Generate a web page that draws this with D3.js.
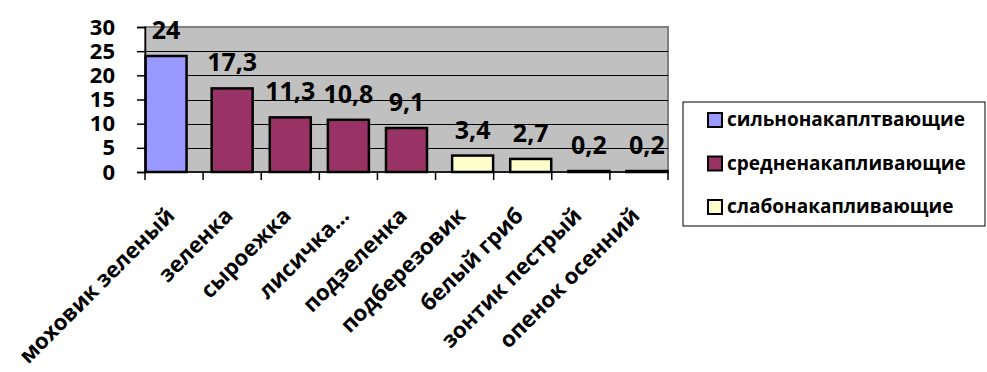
<!DOCTYPE html>
<html>
<head>
<meta charset="utf-8">
<script src="https://cdn.jsdelivr.net/npm/d3@7"></script>
<style>
  body { margin: 0; background: #fff; }
  svg { display: block; font-family: "Open Sans", sans-serif; font-weight: bold; }
</style>
</head>
<body>
<svg id="chart"></svg>
<script>
const categories = ['моховик зеленый', 'зеленка', 'сыроежка', 'лисичка...', 'подзеленка',
  'подберезовик', 'белый гриб', 'зонтик пестрый', 'опенок осенний'];
const values = [24, 17.3, 11.3, 10.8, 9.1, 3.4, 2.7, 0.2, 0.2];
const valueLabels = ['24', '17,3', '11,3', '10,8', '9,1', '3,4', '2,7', '0,2', '0,2'];
// which series each category belongs to
const groupOf = [0, 1, 1, 1, 1, 2, 2, 2, 2];
const seriesNames = ['сильнонакаплтвающие', 'средненакапливающие', 'слабонакапливающие'];
const seriesColors = ['#9999ff', '#993366', '#ffffcc'];
const yTicks = [0, 5, 10, 15, 20, 25, 30];

const W = 987, H = 372;
const plot = { left: 145, right: 668, top: 27, bottom: 172 };

const svg = d3.select('#chart').attr('width', W).attr('height', H);

const x = d3.scaleBand().domain(d3.range(categories.length))
  .range([plot.left, plot.right]).paddingInner(0).paddingOuter(0);
const y = d3.scaleLinear().domain([0, 30]).range([plot.bottom, plot.top]);

// plot background
svg.append('rect')
  .attr('x', plot.left).attr('y', plot.top)
  .attr('width', plot.right - plot.left).attr('height', plot.bottom - plot.top)
  .attr('fill', '#c0c0c0')
  .attr('stroke', '#808080').attr('stroke-width', 2);

// gridlines
svg.append('g').selectAll('line')
  .data(yTicks.filter(d => d > 0 && d < 30))
  .join('line')
  .attr('x1', plot.left).attr('x2', plot.right)
  .attr('y1', d => Math.round(y(d)) + 0.5).attr('y2', d => Math.round(y(d)) + 0.5)
  .attr('stroke', '#000').attr('stroke-width', 1.2);

// bars (clustered by series: offset per series inside the category)
const barW = 41;
const seriesShift = [-8, 0, 8];
svg.append('g').selectAll('rect')
  .data(values)
  .join('rect')
  .attr('x', (d, i) => x(i) + x.bandwidth() / 2 - barW / 2 + seriesShift[groupOf[i]])
  .attr('y', d => y(d))
  .attr('width', barW)
  .attr('height', d => y(0) - y(d))
  .attr('fill', (d, i) => seriesColors[groupOf[i]])
  .attr('stroke', '#000').attr('stroke-width', 2.5);

// value labels
svg.append('g').selectAll('text')
  .data(values)
  .join('text')
  .attr('x', (d, i) => x(i) + x.bandwidth() / 2 + seriesShift[groupOf[i]])
  .attr('y', d => y(d) - 17)
  .attr('text-anchor', 'middle')
  .attr('font-size', 25)
  .attr('fill', '#000')
  .text((d, i) => valueLabels[i]);

// y axis
const yAxis = svg.append('g')
  .attr('transform', `translate(${plot.left},0)`)
  .call(d3.axisLeft(y).tickValues(yTicks).tickSize(8).tickPadding(22).tickFormat(d3.format('d')));
yAxis.select('.domain').attr('stroke', '#000').attr('stroke-width', 1.5);
yAxis.selectAll('.tick line').attr('stroke', '#000').attr('stroke-width', 1.5);
yAxis.selectAll('.tick text')
  .attr('font-size', 22).attr('font-weight', 'bold')
  .attr('font-family', '"Open Sans", sans-serif').attr('fill', '#000');

// x axis with ticks at band boundaries
const xb = svg.append('g').attr('transform', `translate(0,${plot.bottom})`);
xb.append('line')
  .attr('x1', plot.left).attr('x2', plot.right)
  .attr('stroke', '#000').attr('stroke-width', 1.5);
xb.selectAll('.tk')
  .data(d3.range(categories.length + 1))
  .join('line')
  .attr('class', 'tk')
  .attr('x1', i => i < categories.length ? x(i) : plot.right)
  .attr('x2', i => i < categories.length ? x(i) : plot.right)
  .attr('y1', 0).attr('y2', 8)
  .attr('stroke', '#000').attr('stroke-width', 1.5);
xb.selectAll('.lbl')
  .data(categories)
  .join('text')
  .attr('class', 'lbl')
  .attr('transform', (d, i) => `translate(${x(i) + x.bandwidth() / 2 + 2},${45}) rotate(-45)`)
  .attr('text-anchor', 'end')
  .attr('font-size', 22)
  .attr('fill', '#000')
  .text(d => d);

// legend
const lg = svg.append('g');
lg.append('rect')
  .attr('x', 683).attr('y', 102).attr('width', 302).attr('height', 124)
  .attr('fill', '#fff').attr('stroke', '#000').attr('stroke-width', 1);
const items = lg.selectAll('.item')
  .data(seriesNames)
  .join('g')
  .attr('class', 'item')
  .attr('transform', (d, i) => `translate(708,${120 + i * 43.5})`);
items.append('rect')
  .attr('x', 0).attr('y', -7).attr('width', 14).attr('height', 14)
  .attr('fill', (d, i) => seriesColors[i])
  .attr('stroke', '#000').attr('stroke-width', 2);
items.append('text')
  .attr('x', 19).attr('y', 6)
  .attr('font-size', 19)
  .attr('fill', '#000')
  .text(d => d);
</script>
</body>
</html>
